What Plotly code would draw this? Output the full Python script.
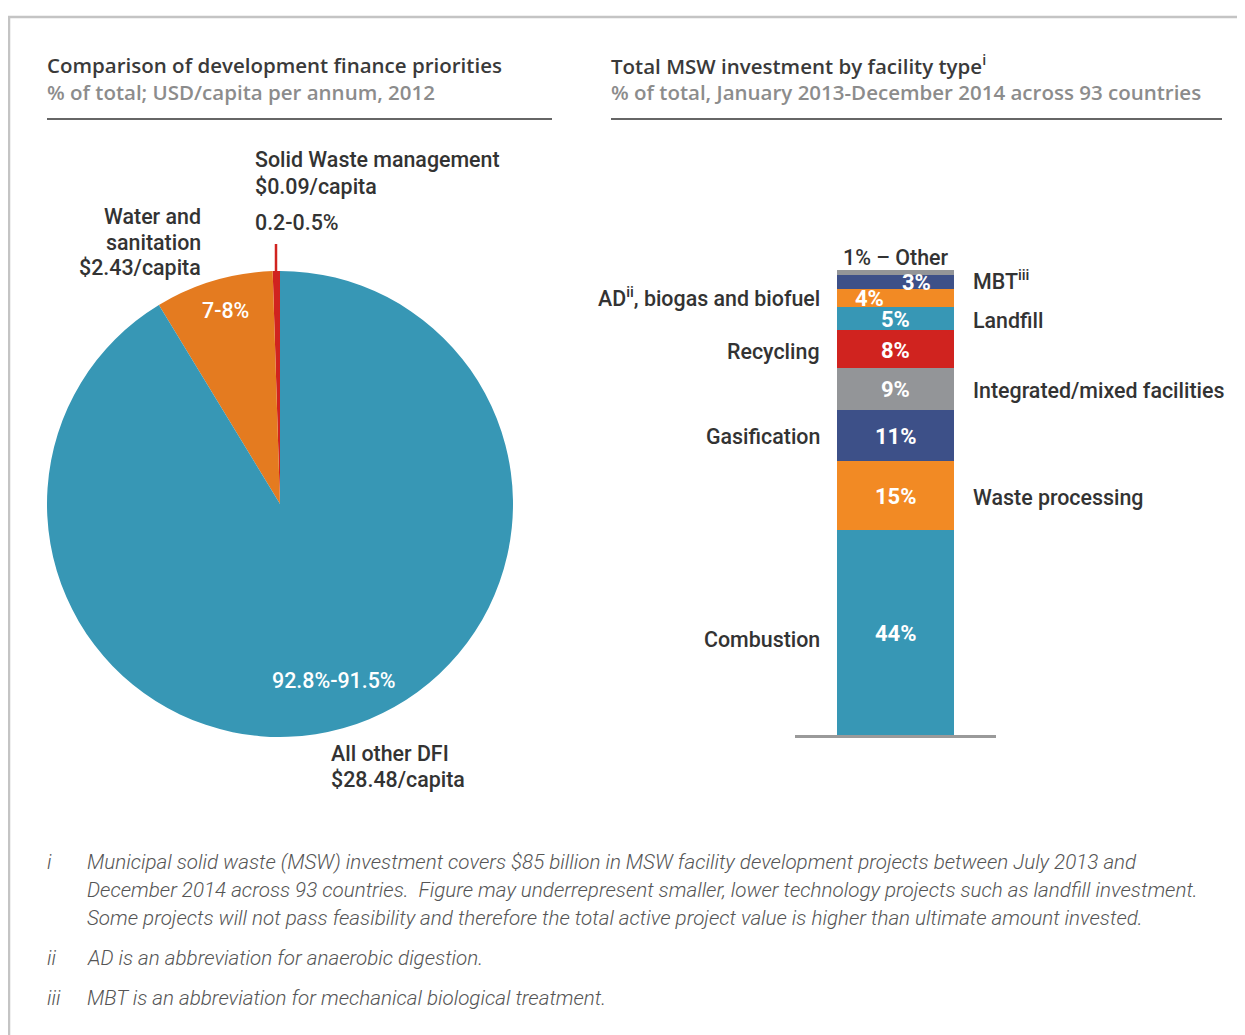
import plotly.graph_objects as go
import numpy as np

OFF = 8  # default page margin of the html body
W, H = 1245 - OFF, 1035 - OFF

# ---------------- data ----------------
pie_labels = ["Solid Waste management", "Water and sanitation", "All other DFI"]
pie_values = [0.5, 8.2, 91.3]
pie_colors = ["#d0231f", "#e47b20", "#3797b5"]

bar_cats = ["Combustion", "Waste processing", "Gasification", "Integrated/mixed facilities",
            "Recycling", "Landfill", "AD, biogas and biofuel", "MBT", "Other"]
bar_values = [44, 15, 11, 9, 8, 5, 4, 3, 1]
bar_text = ["44%", "15%", "11%", "9%", "8%", "5%", "4%", "3%", ""]
bar_colors = ["#3797b5", "#f28a24", "#3d5088", "#939598", "#d0231f",
              "#3797b5", "#f28a24", "#3d5088", "#939598"]
# side labels: (category index, text, side, extra vertical shift in px)
side_labels = [
    (0, "Combustion", "left", -4),
    (2, "Gasification", "left", 2),
    (4, "Recycling", "left", 1),
    (6, "AD<sup>ii</sup>, biogas and biofuel", "left", 4),
    (7, "MBT<sup>iii</sup>", "right", 5),
    (5, "Landfill", "right", 1),
    (3, "Integrated/mixed facilities", "right", 1),
    (1, "Waste processing", "right", 1),
]

footnotes = [
    ("i", ["Municipal solid waste (MSW) investment covers $85 billion in MSW facility development projects between July 2013 and",
           "December 2014 across 93 countries.  Figure may underrepresent smaller, lower technology projects such as landfill investment.",
           "Some projects will not pass feasibility and therefore the total active project value is higher than ultimate amount invested."]),
    ("ii", ["AD is an abbreviation for anaerobic digestion."]),
    ("iii", ["MBT is an abbreviation for mechanical biological treatment."]),
]

# ---------------- helpers ----------------
def px(x):
    return (x - OFF) / W

def py(y):
    return 1 - (y - OFF) / H

DARK = "#333333"
LABEL_FONT = "Roboto"
TITLE_FONT = "Open Sans"
LS = 21.4  # label size

annotations = []

def ann(text, x, y, size=LS, color=DARK, xanchor="left", family=LABEL_FONT,
        weight=500, style="normal", yanchor="middle"):
    align = "center" if xanchor == "center" else xanchor
    if xanchor == "left":
        x -= 2
    elif xanchor == "right":
        x += 2
    annotations.append(dict(
        text=text, x=px(x), y=py(y), xref="paper", yref="paper",
        xanchor=xanchor, yanchor=yanchor, showarrow=False, align=align,
        font=dict(family=family, size=size, color=color, weight=weight, style=style),
    ))

def ann_lines(lines, x, ys, **kw):
    for t, y in zip(lines, ys):
        ann(t, x, y, **kw)

fig = go.Figure()

# ---------------- pie ----------------
# plotly puts the first slice clockwise of the start angle when direction is
# counterclockwise; rotate back by that slice so it sits just left of 12 o'clock
first_angle = pie_values[0] / sum(pie_values) * 360.0
fig.add_trace(go.Pie(
    labels=pie_labels, values=pie_values, sort=False, direction="counterclockwise",
    rotation=-first_angle, marker=dict(colors=pie_colors, line=dict(width=0)),
    textinfo="none", hoverinfo="label+percent", showlegend=False,
    domain=dict(x=[px(47), px(513)], y=[py(737), py(271)]),
))

# ---------------- stacked bar ----------------
for cat, v, c in zip(bar_cats, bar_values, bar_colors):
    fig.add_trace(go.Bar(
        x=[0], y=[v], name=cat, marker=dict(color=c, line=dict(width=0)),
        width=0.587, showlegend=False, xaxis="x2", yaxis="y2",
        hovertemplate=cat + ": %{y}%<extra></extra>",
    ))

cum = np.cumsum(bar_values)
mids = cum - np.array(bar_values) / 2.0

xshifts = [0, 0, 0, 0, 0, 0, -26, 21, 0]
for i, t in enumerate(bar_text):
    if not t:
        continue
    annotations.append(dict(
        text=t, x=0, y=mids[i], xref="x2", yref="y2", showarrow=False,
        xanchor="center", yanchor="middle", xshift=xshifts[i], yshift=-1,
        font=dict(family=LABEL_FONT, size=22, color="white", weight=700),
    ))

annotations.append(dict(
    text="1% – Other", x=0, y=cum[-1], xref="x2", yref="y2", showarrow=False,
    xanchor="center", yanchor="bottom", yshift=-2,
    font=dict(family=LABEL_FONT, size=LS, color=DARK, weight=500),
))

for idx, t, side, dy in side_labels:
    left = side == "left"
    annotations.append(dict(
        text=t, x=px(822 if left else 971), y=mids[idx], xref="paper", yref="y2",
        showarrow=False, xanchor="right" if left else "left", yanchor="middle",
        align="right" if left else "left", yshift=-3 + dy,
        font=dict(family=LABEL_FONT, size=LS, color=DARK, weight=500)))

# ---------------- titles ----------------
TS = 20.5
ann("Comparison of development finance priorities", 47, 65, size=TS, family=TITLE_FONT, weight=600, color="#3a3a3a")
ann("% of total; USD/capita per annum, 2012", 47, 92, size=TS, family=TITLE_FONT, weight=600, color="#8c8c8c")
ann("Total MSW investment by facility type<sup>i</sup>", 611, 65, size=TS, family=TITLE_FONT, weight=600, color="#3a3a3a")
ann("% of total, January 2013-December 2014 across 93 countries", 611, 92, size=TS, family=TITLE_FONT, weight=600, color="#8c8c8c")

# ---------------- pie labels ----------------
ann_lines(["Solid Waste management", "$0.09/capita"], 255, [160, 186])
ann("0.2-0.5%", 255, 222)
ann_lines(["Water and", "sanitation", "$2.43/capita"], 201, [217, 242, 267], xanchor="right")
ann_lines(["All other DFI", "$28.48/capita"], 331, [753, 779])
ann("7-8%", 225, 311, xanchor="center", color="white")
ann("92.8%-91.5%", 334, 680, xanchor="center", color="white")

# ---------------- footnotes ----------------
y0 = 862
for mark, lines in footnotes:
    ann(mark, 47, y0, size=20.6, color="#555555", weight=300, style="italic")
    for ln in lines:
        ann(ln, 87, y0, size=20.6, color="#555555", weight=300, style="italic")
        y0 += 28
    y0 += 12

# ---------------- shapes ----------------
shapes = [
    # frame
    dict(type="line", xref="paper", yref="paper", x0=px(8), x1=1, y0=py(17), y1=py(17),
         line=dict(color="#c4c4c4", width=2.5)),
    dict(type="line", xref="paper", yref="paper", x0=px(9), x1=px(9), y0=py(16), y1=0,
         line=dict(color="#c4c4c4", width=2.5)),
    # title rules
    dict(type="line", xref="paper", yref="paper", x0=px(47), x1=px(552), y0=py(119), y1=py(119),
         line=dict(color="#333333", width=1.3)),
    dict(type="line", xref="paper", yref="paper", x0=px(611), x1=px(1222), y0=py(119), y1=py(119),
         line=dict(color="#333333", width=1.3)),
    # leader for tiny pie slice
    dict(type="line", xref="paper", yref="paper", x0=px(276), x1=px(276), y0=py(244), y1=py(273),
         line=dict(color="#d0231f", width=2.5)),
]

fig.update_layout(
    width=W, height=H, margin=dict(l=0, r=0, t=0, b=0),
    paper_bgcolor="white", plot_bgcolor="white",
    barmode="stack", bargap=0,
    xaxis2=dict(domain=[px(795), px(996)], range=[-0.5, 0.5], anchor="y2",
                showgrid=False, zeroline=False, showticklabels=False, ticks="",
                showline=True, linecolor="#9a9a9a", linewidth=3, fixedrange=True),
    yaxis2=dict(domain=[py(735), py(270)], range=[0, 100], anchor="x2",
                showgrid=False, zeroline=False, showticklabels=False, ticks="",
                showline=False, fixedrange=True),
    annotations=annotations, shapes=shapes,
    font=dict(family=LABEL_FONT, color=DARK),
)

fig.write_html("out.html")
